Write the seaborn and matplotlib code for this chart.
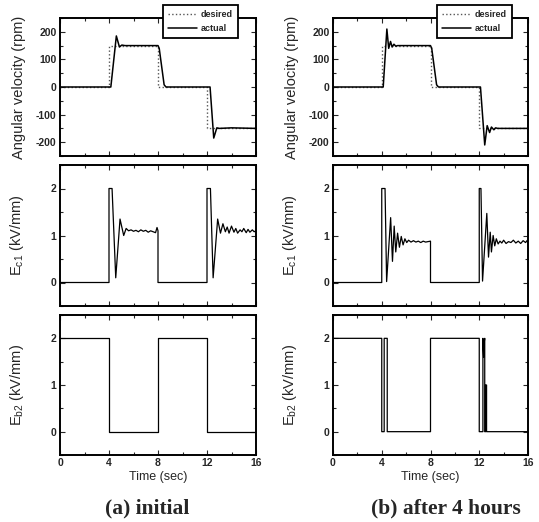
import matplotlib
matplotlib.use("Agg")
import matplotlib.pyplot as plt
import seaborn as sns
from matplotlib.ticker import MultipleLocator

# ---------------- data ----------------
time_ticks = [0, 4, 8, 12, 16]
vel_ticks = [-200, -100, 0, 100, 200]
e_ticks = [0, 1, 2]
captions = ["(a) initial", "(b) after 4 hours"]
legend_labels = ["desired", "actual"]

vel_des_t = [0, 4, 4, 8, 8, 12, 12, 16]
vel_des_v = [0, 0, 150, 150, 0, 0, -150, -150]

velA_t = [0, 4.15, 4.6, 4.85, 5.05, 5.3, 8.0, 8.1, 8.5, 8.65, 12.25, 12.55, 12.8, 13.0, 14.0, 16]
velA_v = [0, 0, 185, 145, 152, 150, 150, 140, 8, 0, 0, -185, -148, -150, -148, -150]

velB_t = [0, 4.12, 4.42, 4.57, 4.72, 4.85, 5.0, 5.15, 5.3, 8.0, 8.1, 8.5, 8.65,
          12.1, 12.45, 12.65, 12.85, 13.0, 13.2, 13.35, 13.5, 16]
velB_v = [0, 0, 210, 140, 165, 145, 155, 148, 150, 150, 140, 8, 0,
          0, -210, -140, -165, -145, -155, -148, -150, -150]

ec1A_t = [0, 4.0, 4.0, 4.25, 4.55, 4.9, 5.2, 5.4, 5.6, 5.8, 6.0, 6.2, 6.4, 6.6, 6.8, 7.0,
          7.2, 7.4, 7.6, 7.8, 7.92, 8.0, 8.0, 12.0, 12.0, 12.28, 12.5, 12.87, 13.1, 13.3,
          13.5, 13.65, 13.8, 14.0, 14.2, 14.35, 14.5, 14.7, 14.85, 15.0, 15.2, 15.35, 15.5,
          15.7, 15.85, 16.0]
ec1A_v = [0, 0, 2, 2, 0.1, 1.35, 1.0, 1.15, 1.1, 1.12, 1.09, 1.11, 1.08, 1.12, 1.09, 1.11,
          1.07, 1.10, 1.08, 1.06, 1.17, 1.1, 0, 0, 2, 2, 0.1, 1.35, 1.05, 1.25,
          1.08, 1.18, 1.05, 1.2, 1.07, 1.15, 1.05, 1.12, 1.08, 1.15, 1.06, 1.13, 1.07,
          1.12, 1.08, 1.1]

ec1B_t = [0, 4.0, 4.0, 4.27, 4.4, 4.73, 4.88, 5.02, 5.15, 5.3, 5.45, 5.6, 5.75, 5.9, 6.05,
          6.2, 6.4, 6.6, 6.8, 7.0, 7.2, 7.4, 7.6, 7.8, 8.0, 8.0, 12.0, 12.0, 12.14, 12.27,
          12.62, 12.76, 12.9, 13.0, 13.14, 13.27, 13.4, 13.55, 13.7, 13.85, 14.0, 14.2,
          14.4, 14.6, 14.8, 15.0, 15.2, 15.4, 15.6, 15.8, 15.95, 16.0]
ec1B_v = [0, 0, 2, 2, 0.02, 1.38, 0.45, 1.2, 0.65, 1.05, 0.75, 0.98, 0.8, 0.93, 0.85,
          0.9, 0.86, 0.89, 0.86, 0.88, 0.85, 0.88, 0.86, 0.87, 0.88, 0, 0, 2, 2, 0.03,
          1.47, 0.54, 1.07, 0.65, 1.0, 0.78, 0.93, 0.82, 0.88, 0.84, 0.9, 0.83,
          0.87, 0.85, 0.9, 0.84, 0.88, 0.83, 0.89, 0.85, 0.9, 0.8]

eb2A_t = [0, 4, 4, 8, 8, 12, 12, 16]
eb2A_v = [2, 2, 0, 0, 2, 2, 0, 0]

eb2B_t = [0, 4.0, 4.0, 4.2, 4.2, 4.45, 4.45, 8.0, 8.0, 12.0, 12.0, 12.3, 12.3, 12.36,
          12.4, 12.45, 12.45, 12.52, 12.52, 12.6, 12.6, 16]
eb2B_v = [2, 2, 0, 0, 2, 2, 0, 0, 2, 2, 0, 0, 2.0, 1.6,
          1.9, 2.0, 0, 0, 1.0, 1.0, 0, 0]

# ---------------- style ----------------
sns.set_style("ticks")
plt.rcParams["font.family"] = ["Liberation Sans", "DejaVu Sans"]
plt.rcParams["mathtext.fontset"] = "custom"
plt.rcParams["mathtext.rm"] = "Liberation Sans"
plt.rcParams["axes.unicode_minus"] = False

W, H = 539, 522
fig = plt.figure(figsize=(W / 100, H / 100), dpi=100)

col_x = [(60, 256), (333, 528)]
row_y = [(18, 156), (165, 306), (315, 455)]


def make_ax(c, r):
    x0, x1 = col_x[c]
    y0, y1 = row_y[r]
    return fig.add_axes([x0 / W, (H - y1) / H, (x1 - x0) / W, (y1 - y0) / H])


def style(ax, yticks, ylim, yminor, ylabel, bottom):
    ax.set_xlim(0, 16)
    ax.set_ylim(*ylim)
    ax.set_xticks(time_ticks)
    ax.xaxis.set_minor_locator(MultipleLocator(2))
    ax.set_yticks(yticks)
    ax.yaxis.set_minor_locator(MultipleLocator(yminor))
    ax.tick_params(which="both", direction="in", top=True, right=True, width=0.8)
    ax.tick_params(which="major", length=3.5)
    ax.tick_params(which="minor", length=2)
    for lab in ax.get_xticklabels() + ax.get_yticklabels():
        lab.set_fontweight("bold")
        lab.set_fontsize(7.5)
    ax.tick_params(axis="both", pad=2.5)
    for s in ax.spines.values():
        s.set_linewidth(1.4)
        s.set_color("black")
    ax.set_ylabel(ylabel, fontsize=10.5)
    ax.yaxis.set_label_coords(-0.175, 0.5)
    if bottom:
        ax.set_xlabel("Time (sec)", fontsize=9, labelpad=2)
    else:
        ax.set_xticklabels([])
        ax.set_xlabel("")


vel_sets = [(velA_t, velA_v), (velB_t, velB_v)]
ec1_sets = [(ec1A_t, ec1A_v), (ec1B_t, ec1B_v)]
eb2_sets = [(eb2A_t, eb2A_v), (eb2B_t, eb2B_v)]
leg_right = [238, 512]
cap_x = [147, 446]

for c in range(2):
    ax = make_ax(c, 0)
    sns.lineplot(x=vel_des_t, y=vel_des_v, ax=ax, sort=False, estimator=None,
                 color="#555555", linestyle=":", linewidth=1.0, label=legend_labels[0])
    sns.lineplot(x=vel_sets[c][0], y=vel_sets[c][1], ax=ax, sort=False, estimator=None,
                 color="black", linewidth=1.1, label=legend_labels[1])
    style(ax, vel_ticks, (-250, 250), 50, "Angular velocity (rpm)", False)
    leg = ax.legend(loc="upper right",
                    bbox_to_anchor=(leg_right[c] / W, (H - 5) / H),
                    bbox_transform=fig.transFigure,
                    fancybox=False, frameon=True, edgecolor="black",
                    prop={"weight": "bold", "size": 6.5},
                    handlelength=3.2, handletextpad=0.5, labelspacing=0.55,
                    borderpad=0.55, borderaxespad=0)
    leg.get_frame().set_linewidth(1.3)
    leg.get_frame().set_alpha(1)

    ax = make_ax(c, 1)
    sns.lineplot(x=ec1_sets[c][0], y=ec1_sets[c][1], ax=ax, sort=False, estimator=None,
                 color="black", linewidth=0.9)
    style(ax, e_ticks, (-0.5, 2.5), 0.5, r"$\mathregular{E_{c1}}$ (kV/mm)", False)

    ax = make_ax(c, 2)
    sns.lineplot(x=eb2_sets[c][0], y=eb2_sets[c][1], ax=ax, sort=False, estimator=None,
                 color="black", linewidth=0.9)
    style(ax, e_ticks, (-0.5, 2.5), 0.5, r"$\mathregular{E_{b2}}$ (kV/mm)", True)

    fig.text(cap_x[c] / W, (H - 508) / H, captions[c], ha="center", va="center",
             fontsize=15.5, fontweight="bold", family=["Liberation Serif", "DejaVu Serif"])

fig.savefig("out.png", dpi=100)
